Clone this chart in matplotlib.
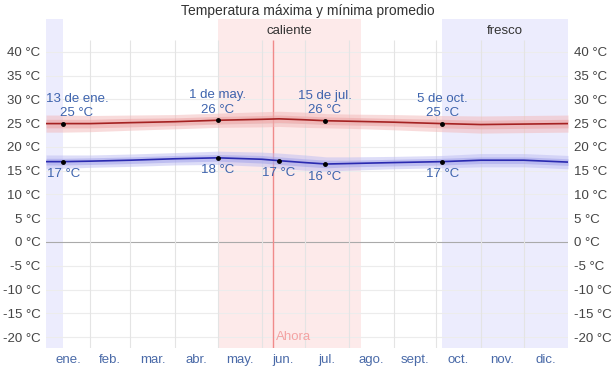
import matplotlib.pyplot as plt

plt.rcParams['font.family'] = ['Liberation Sans', 'DejaVu Sans']

# day of year samples and values
days = [0, 12, 31, 59, 90, 120, 151, 163, 181, 196, 212, 243, 277, 304, 334, 365]
t_max = [24.9, 24.9, 24.9, 25.1, 25.3, 25.6, 25.8, 25.9, 25.7, 25.5, 25.4, 25.2, 24.9, 24.7, 24.8, 24.9]
t_min = [16.9, 16.9, 17.0, 17.2, 17.5, 17.7, 17.4, 17.1, 16.7, 16.4, 16.5, 16.7, 16.9, 17.2, 17.2, 16.8]
max_in = [0.9, 0.9, 0.9, 0.9, 0.8, 0.8, 0.8, 0.8, 0.8, 0.8, 0.8, 0.8, 0.9, 0.9, 0.9, 0.9]
max_out = [1.8, 1.8, 1.7, 1.6, 1.5, 1.5, 1.6, 1.6, 1.6, 1.5, 1.5, 1.6, 1.7, 1.8, 1.8, 1.8]
min_in = [0.7, 0.7, 0.7, 0.7, 0.7, 0.7, 0.8, 0.8, 0.8, 0.8, 0.7, 0.7, 0.7, 0.7, 0.7, 0.7]
min_out = [1.4, 1.4, 1.3, 1.3, 1.3, 1.4, 1.5, 1.6, 1.6, 1.5, 1.4, 1.3, 1.3, 1.4, 1.4, 1.4]

months = ['ene.', 'feb.', 'mar.', 'abr.', 'may.', 'jun.', 'jul.', 'ago.', 'sept.', 'oct.', 'nov.', 'dic.']
month_start = [0, 31, 59, 90, 120, 151, 181, 212, 243, 273, 304, 334, 365]
yticks = [-20, -15, -10, -5, 0, 5, 10, 15, 20, 25, 30, 35, 40]

# highlighted days (day, value, date label)
max_marks = [(12, 25, '13 de ene.'), (120, 26, '1 de may.'), (195, 26, '15 de jul.'), (277, 25, '5 de oct.')]
min_marks = [(12, 17), (120, 18), (163, 17), (195, 16), (277, 17)]
max_mark_y = [24.9, 25.6, 25.5, 24.9]
min_mark_y = [16.9, 17.7, 17.1, 16.4, 16.9]

hot = (120, 220)
cool = [(277, 365), (0, 12)]
now_day = 158.5

blue_txt = '#3d63ad'
fig = plt.figure(figsize=(6.15, 3.66), dpi=100)
ax = fig.add_axes([46 / 615, 1 - 348 / 366, 522 / 615, 329 / 366])
ax.set_xlim(0, 365)
ax.set_ylim(-22.3, 46.9)

ax.axvspan(hot[0], hot[1], color='#fdeaea', lw=0, zorder=0)
for a, b in cool:
    ax.axvspan(a, b, color='#ececfd', lw=0, zorder=0)

for v in yticks:
    ax.axhline(v, color='#aaaaaa' if v == 0 else '#ececec', lw=0.8, zorder=1)
ax.vlines(month_start[1:-1], -22.3, 42.5, color='#e4e4e4', lw=0.8, zorder=1)
ax.vlines([now_day], -22.3, 42.5, color='#f08a8a', lw=1.0, zorder=2)
ax.text(now_day + 2, -20, 'Ahora', color='#f4a3a3', fontsize=9.5, va='center', ha='left')

lo = [m - o for m, o in zip(t_max, max_out)]
hi = [m + o for m, o in zip(t_max, max_out)]
ax.fill_between(days, lo, hi, color='#f2b8b8', alpha=0.5, lw=0, zorder=2)
lo = [m - o for m, o in zip(t_max, max_in)]
hi = [m + o for m, o in zip(t_max, max_in)]
ax.fill_between(days, lo, hi, color='#eba0a0', alpha=0.5, lw=0, zorder=2)
lo = [m - o for m, o in zip(t_min, min_out)]
hi = [m + o for m, o in zip(t_min, min_out)]
ax.fill_between(days, lo, hi, color='#bdbdf2', alpha=0.5, lw=0, zorder=2)
lo = [m - o for m, o in zip(t_min, min_in)]
hi = [m + o for m, o in zip(t_min, min_in)]
ax.fill_between(days, lo, hi, color='#a0a0ea', alpha=0.5, lw=0, zorder=2)

ax.plot(days, t_max, color='#a52222', lw=1.2, zorder=3)
ax.plot(days, t_min, color='#2a2ab0', lw=1.2, zorder=3)

for i, ((d, v, lab), y) in enumerate(zip(max_marks, max_mark_y)):
    dx = 10 if i == 0 else 0  # first label is kept inside the plot
    ax.plot(d, y, 'o', color='black', ms=2.5, zorder=4)
    ax.annotate(lab, (d, y), xytext=(dx, 18), textcoords='offset points',
                ha='center', va='center', color=blue_txt, fontsize=9.5)
    ax.annotate(f'{v} °C', (d, y), xytext=(dx, 7.5), textcoords='offset points',
                ha='center', va='center', color=blue_txt, fontsize=9.5)
for (d, v), y in zip(min_marks, min_mark_y):
    ax.plot(d, y, 'o', color='black', ms=2.5, zorder=4)
    ax.annotate(f'{v} °C', (d, y), xytext=(0, -9), textcoords='offset points',
                ha='center', va='center', color=blue_txt, fontsize=9.5)

ax.text(sum(hot) / 2, 44.4, 'caliente', ha='center', va='center', color='#333333', fontsize=9.5)
ax.text(sum(cool[0]) / 2, 44.4, 'fresco', ha='center', va='center', color='#333333', fontsize=9.5)

mids = [(a + b) / 2 for a, b in zip(month_start[:-1], month_start[1:])]
ax.set_xticks(mids)
ax.set_xticklabels(months, color='#4a6aa8', fontsize=9.5)
ax.set_yticks(yticks)
ax.set_yticklabels([f'{v} °C' for v in yticks], color='#444444', fontsize=9.5)
ax.tick_params(length=0, pad=4, labelright=True)
for s in ax.spines.values():
    s.set_visible(False)

fig.suptitle('Temperatura máxima y mínima promedio', y=0.99, va='top', color='#333333', fontsize=10)
fig.savefig('out.png', dpi=100)
